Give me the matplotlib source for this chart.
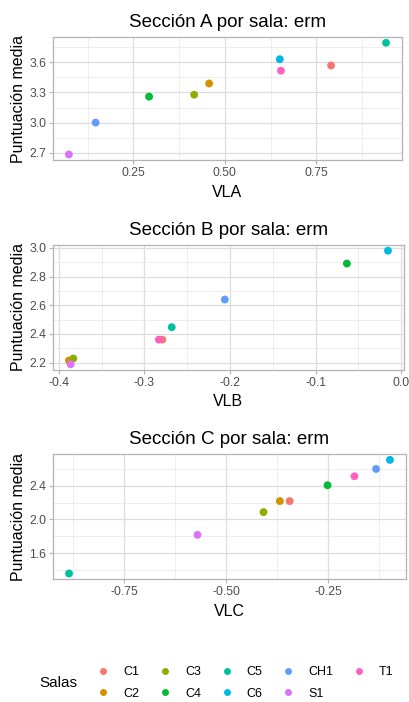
import numpy as np
import matplotlib
matplotlib.use("Agg")
import matplotlib.pyplot as plt
from matplotlib.lines import Line2D
from matplotlib.ticker import MultipleLocator

plt.rcParams['font.family'] = ['Liberation Sans', 'DejaVu Sans']

salas = ["C1", "C2", "C3", "C4", "C5", "C6", "CH1", "S1", "T1"]
colores = ["#F8766D", "#D39200", "#93AA00", "#00BA38", "#00C19F",
           "#00B9E3", "#619CFF", "#DB72FB", "#FF61C3"]

vla = [0.790, 0.457, 0.416, 0.293, 0.940, 0.650, 0.147, 0.074, 0.653]
punt_a = [3.567, 3.388, 3.277, 3.258, 3.792, 3.629, 3.000, 2.684, 3.515]

vlb = [-0.279, -0.388, -0.383, -0.0635, -0.268, -0.0155, -0.206, -0.386, -0.283]
punt_b = [2.360, 2.214, 2.228, 2.891, 2.447, 2.981, 2.640, 2.188, 2.360]

vlc = [-0.344, -0.368, -0.408, -0.251, -0.885, -0.098, -0.132, -0.570, -0.185]
punt_c = [2.219, 2.219, 2.088, 2.408, 1.357, 2.710, 2.602, 1.817, 2.515]

paneles = [
    ("Sección A por sala: erm", "VLA", vla, punt_a, 0.25, 0.3, "%.2f", "%.1f"),
    ("Sección B por sala: erm", "VLB", vlb, punt_b, 0.1, 0.2, "%.1f", "%.1f"),
    ("Sección C por sala: erm", "VLC", vlc, punt_c, 0.25, 0.4, "%.2f", "%.1f"),
]
# axes boxes in figure fraction (left, bottom, width, height)
cajas = [
    (0.1296, 0.772, 0.853, 0.175),
    (0.1296, 0.473, 0.858, 0.178),
    (0.1296, 0.175, 0.863, 0.178),
]

fig = plt.figure(figsize=(4.09, 7.02), dpi=100)

for (titulo, xl, xs, ys, xstep, ystep, xfmt, yfmt), caja in zip(paneles, cajas):
    ax = fig.add_axes(caja)
    ax.set_axisbelow(True)
    for x, y, c in zip(xs, ys, colores):
        ax.scatter(x, y, s=32, color=c, edgecolors='none', zorder=3)
    ax.margins(0.05)
    ax.xaxis.set_major_locator(MultipleLocator(xstep))
    ax.yaxis.set_major_locator(MultipleLocator(ystep))
    ax.xaxis.set_minor_locator(MultipleLocator(xstep / 2))
    ax.yaxis.set_minor_locator(MultipleLocator(ystep / 2))
    ax.xaxis.set_major_formatter(matplotlib.ticker.FormatStrFormatter(xfmt))
    ax.yaxis.set_major_formatter(matplotlib.ticker.FormatStrFormatter(yfmt))
    ax.grid(which='major', color='#DEDEDE', linewidth=0.9)
    ax.grid(which='minor', color='#E8E8E8', linewidth=0.5)
    for s in ax.spines.values():
        s.set_color('#B3B3B3')
        s.set_linewidth(0.9)
    ax.tick_params(which='major', colors='#B3B3B3', labelcolor='#4D4D4D',
                   labelsize=8.7, length=3, width=0.8, pad=2)
    ax.tick_params(which='minor', length=0)
    ax.set_title(titulo, fontsize=13.5, pad=7)
    ax.set_xlabel(xl, fontsize=11.5, labelpad=4)
    ax.set_ylabel("Puntuación media", fontsize=11.5, labelpad=2)

handles = [Line2D([], [], marker='o', linestyle='none', markersize=5,
                  markerfacecolor=c, markeredgecolor='none') for c in colores]
fig.legend(handles, salas, ncol=5, loc='center left',
           bbox_to_anchor=(0.21, 0.027), frameon=False, fontsize=9,
           handletextpad=1.1, columnspacing=1.55, labelspacing=0.75,
           handlelength=1.0)
fig.text(0.142, 0.027, "Salas", fontsize=11, va='center', ha='center')

fig.savefig("out.png", dpi=100)
